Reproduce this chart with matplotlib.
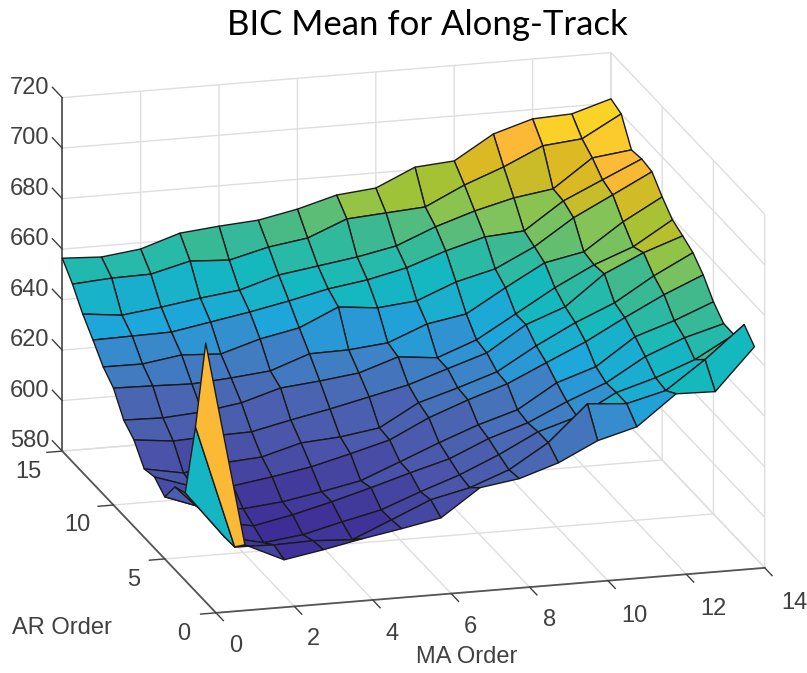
import matplotlib as mlp
mlp.use('Agg')
import matplotlib.pyplot as plt
from matplotlib.colors import LinearSegmentedColormap, Normalize
from matplotlib.transforms import ScaledTranslation
from mpl_toolkits.mplot3d import Axes3D
import numpy as np

plt.rcParams['font.family'] = ['Liberation Sans', 'DejaVu Sans']

ma_order = np.arange(0, 15)
ar_order = np.arange(1, 16)

# BIC mean, one row per AR order, MA 0..14
ar01 = [682.6, 601.4, 594.2, 596.9, 600.0, 602.7, 605.7, 616.4, 618.7, 623.7, 631.2, 635.4, 647.2, 646.8, 663.3]
ar02 = [645.1, 596.3, 595.8, 596.2, 595.3, 601.9, 608.6, 612.1, 617.9, 627.4, 641.5, 640.3, 644.2, 655.2, 667.8]
ar03 = [614.7, 596.0, 592.4, 594.3, 598.1, 601.6, 607.5, 612.9, 619.6, 627.4, 632.1, 640.4, 645.0, 650.9, 659.5]
ar04 = [612.8, 597.7, 594.8, 597.9, 601.8, 606.1, 610.7, 615.0, 621.7, 626.7, 633.8, 640.0, 649.1, 655.3, 659.6]
ar05 = [604.6, 598.9, 597.3, 598.8, 601.5, 604.6, 610.8, 617.1, 622.9, 627.6, 637.0, 642.1, 652.7, 657.8, 664.0]
ar06 = [608.2, 603.0, 602.1, 604.4, 607.1, 611.0, 615.2, 622.7, 628.5, 633.6, 640.7, 647.7, 656.0, 663.8, 670.4]
ar07 = [607.1, 604.2, 606.9, 608.0, 612.3, 613.4, 615.7, 624.4, 629.0, 634.1, 643.1, 651.0, 657.6, 667.0, 674.9]
ar08 = [614.3, 612.6, 613.3, 613.7, 617.1, 620.2, 623.7, 627.2, 632.3, 637.3, 647.2, 653.0, 664.8, 671.9, 677.3]
ar09 = [617.9, 617.5, 618.6, 620.9, 625.5, 627.0, 628.9, 634.0, 632.4, 638.2, 647.2, 656.3, 664.1, 670.0, 679.4]
ar10 = [626.3, 625.9, 625.4, 626.5, 628.0, 633.5, 633.8, 635.3, 641.5, 644.2, 653.3, 661.9, 665.0, 675.6, 684.2]
ar11 = [630.4, 630.3, 632.6, 631.7, 636.4, 639.5, 646.5, 644.9, 646.4, 652.6, 656.5, 664.0, 674.2, 682.0, 689.9]
ar12 = [636.8, 637.1, 637.4, 640.1, 642.8, 645.9, 649.4, 651.7, 655.2, 660.6, 664.9, 666.0, 676.6, 683.7, 690.7]
ar13 = [642.8, 641.1, 643.0, 645.3, 647.2, 651.9, 654.2, 656.5, 659.6, 665.9, 670.9, 674.8, 677.1, 688.1, 690.0]
ar14 = [650.4, 651.5, 651.8, 655.7, 654.8, 658.7, 661.0, 667.3, 668.4, 669.5, 676.9, 682.8, 689.9, 691.4, 700.0]
ar15 = [656.4, 655.6, 657.5, 662.5, 664.0, 665.1, 668.2, 672.5, 674.0, 681.0, 682.2, 691.6, 696.3, 697.0, 701.7]

ma_ticks = [0, 2, 4, 6, 8, 10, 12, 14]
ar_ticks = [0, 5, 10, 15]
bic_ticks = [580, 600, 620, 640, 660, 680, 700, 720]

bic = np.array([ar01, ar02, ar03, ar04, ar05, ar06, ar07, ar08, ar09, ar10, ar11, ar12, ar13, ar14, ar15])
X, Y = np.meshgrid(ma_order, ar_order)

# washed out parula, colours
parula = LinearSegmentedColormap.from_list('parula_soft', [
    (0.00, '#3e2d96'), (0.05, '#413a9b'), (0.14, '#4b55aa'), (0.25, '#4a69b4'), (0.34, '#3c85c8'),
    (0.40, '#1ea5dc'), (0.50, '#14b9be'), (0.60, '#41b98c'), (0.67, '#87c355'),
    (0.70, '#a0c337'), (0.775, '#dcb923'), (0.83, '#fcb937'), (0.90, '#fad228'),
    (1.00, '#f5e61e')])
colors = parula(Normalize(bic.min(), bic.max())(bic))

W, H = 807, 673
fig = plt.figure(figsize=(W / 100, H / 100), dpi=100)
S = 760
ax = fig.add_axes([23.2 / W, -50 / H, S / W, S / H], projection='3d', proj_type='ortho')
ax.view_init(elev=17.08, azim=254.4)
ax.set_box_aspect((570, 572, 370), zoom=1.134)

ax.plot_surface(X, Y, bic, facecolors=colors, rstride=1, cstride=1,
                edgecolor='#1a1a1a', linewidth=1.0, shade=False, antialiased=True)

ax.set_xlim(0, 14)
ax.set_ylim(0, 15)
ax.set_zlim(580, 720)
ax.set_xticks(ma_ticks)
ax.set_yticks(ar_ticks)
ax.set_zticks(bic_ticks)

# matlab ticks stick outwards, the z ones run along the AR direction
ax.zaxis._get_tickdir = lambda position: 1
for axis, out in ((ax.xaxis, -0.6), (ax.yaxis, -0.35), (ax.zaxis, 0.8)):
    axis.set_pane_color((1, 1, 1, 1))
    axis.pane.set_edgecolor('white')
    axis.line.set_color('#555555')
    axis.line.set_linewidth(1.3)
    axis._axinfo['grid'].update(color='#dedede', linewidth=1.0)
    axis._axinfo['tick'].update(inward_factor=0.0, outward_factor=out, linewidth={True: 1.0, False: 1.0})
    axis.set_tick_params(labelsize=17, colors='#404040', pad=4)

# nudge the tick labels (px) to where matlab put them
x_nudge = [(13, 0), (13, 0), (13, -1), (13, -1), (14, 0), (20, -3), (21, -2), (23, -2)]
y_nudge = [(-9, 7), (-8, 7), (-13, 8), (-11, 7)]
z_nudge = [(-3, 16)] * len(bic_ticks)
for axis, nudge in ((ax.xaxis, x_nudge), (ax.yaxis, y_nudge), (ax.zaxis, z_nudge)):
    for tick, (dx, dy) in zip(axis.get_major_ticks(), nudge):
        tick.label1.set_transform(ax.transData + ScaledTranslation(dx / 100, dy / 100, fig.dpi_scale_trans))
        tick.label1.set_transform = lambda t: None  # axis3d resets it on every draw

fig.text(427 / W, 1 - 25 / H, 'BIC Mean for Along-Track', family='Lato', fontsize=25,
         ha='center', va='center', color='black')
fig.text(62 / W, 1 - 628 / H, 'AR Order', fontsize=17, ha='center', va='center', color='#404040')
fig.text(467 / W, 1 - 657 / H, 'MA Order', fontsize=17, ha='center', va='center', color='#404040')

fig.savefig('out.png', dpi=100)
